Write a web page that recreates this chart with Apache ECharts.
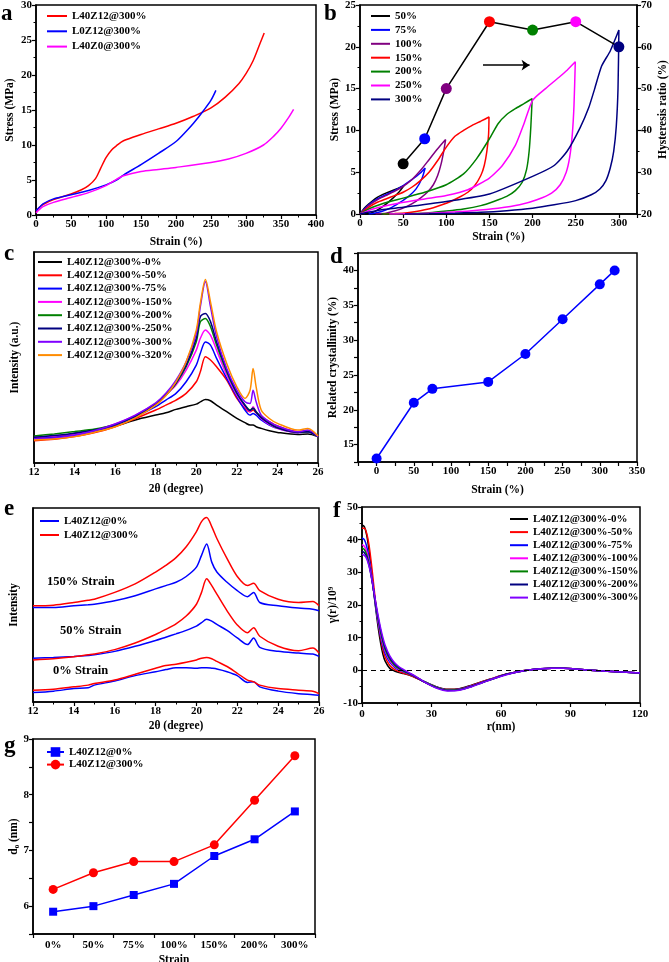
<!DOCTYPE html>
<html><head><meta charset="utf-8">
<script src="https://cdn.jsdelivr.net/npm/echarts@6/dist/echarts.min.js"></script>
<style>html,body{margin:0;padding:0;background:#fff}#c{width:669px;height:962px}</style>
</head><body><div id="c"></div>
<script>
// ---------- Panel a: stress-strain ----------
const aRedX = [0,5,10,25,50,65,75,85,92,100,108,115,125,150,175,200,225,250,270,290,300,310,320,326];
const aRedY = [0.5,1.1,1.5,2.2,3.0,3.6,4.2,5.2,6.6,8.2,9.3,9.9,10.6,11.5,12.3,13.1,14.1,15.3,16.8,18.8,20.2,22.0,24.5,26.0];
const aBlueX = [0,5,10,25,50,75,100,115,125,150,175,200,215,225,240,250,257];
const aBlueY = [0.6,1.1,1.6,2.3,2.9,3.5,4.3,5.0,5.7,7.2,8.8,10.5,12.0,13.1,15.0,16.4,17.8];
const aMagX = [0,5,10,25,50,75,100,115,125,150,175,200,250,275,300,325,340,350,360,368];
const aMagY = [0.3,0.8,1.2,1.8,2.5,3.2,4.2,5.1,5.6,6.2,6.5,6.8,7.5,8.0,8.8,10.0,11.3,12.4,13.8,15.1];

// ---------- Panel b: hysteresis loops ----------
const b50X = [0,5,10,20,30,40,51,45,35,25,15,6];
const b50Y = [0,0.7,1.2,2.0,2.5,2.9,3.4,2.6,1.6,0.8,0.2,0];
const b75X = [0,5,10,20,30,40,50,60,70,75.5,72,65,55,45,35,25,15,10];
const b75Y = [0,0.6,1.1,1.8,2.3,2.8,3.4,4.1,4.9,5.5,4.3,3.0,2.0,1.3,0.7,0.3,0.05,0];
const b100X = [0,10,20,30,40,50,60,70,80,90,99.2,97,94,90,85,78,70,60,50,40,30,18];
const b100Y = [0,1.0,1.7,2.2,2.7,3.3,4.1,5.2,6.5,7.8,8.9,7.5,6.0,4.6,3.5,2.6,1.9,1.2,0.7,0.35,0.1,0];
const b150X = [0,10,20,30,40,50,60,70,80,90,100,110,120,130,140,149.5,149,147,144,140,133,125,115,105,95,85,75,65,55,40,27];
const b150Y = [0,0.8,1.4,1.8,2.2,2.6,3.2,4.0,5.0,6.4,8.0,9.3,10.0,10.6,11.1,11.6,9.5,7.5,5.8,4.6,3.4,2.6,2.0,1.5,1.1,0.75,0.5,0.3,0.15,0.05,0];
const b200X = [0,10,25,50,75,100,120,135,150,160,170,180,190,199.5,198,196,193,188,180,170,155,140,120,100,80,60,40,25];
const b200Y = [0,0.6,1.2,1.9,2.6,3.5,4.8,6.6,9.0,10.8,11.9,12.6,13.2,13.8,10.5,7.5,5.3,3.8,2.8,2.1,1.5,1.0,0.6,0.35,0.15,0.05,0.01,0];
const b250X = [0,15,40,75,100,125,150,165,180,190,200,215,230,240,249.5,248,246,243,239,232,222,205,185,160,130,100,70,50,34];
const b250Y = [0,0.6,1.2,1.8,2.2,2.9,4.3,5.8,8.2,10.8,13.6,15.0,16.3,17.2,18.2,13.0,9.5,6.8,5.0,3.5,2.5,1.7,1.1,0.7,0.4,0.2,0.06,0.02,0];
const b300X = [0,25,50,100,150,200,225,240,255,265,272,280,290,300,299,297,294,290,285,278,268,250,225,200,170,140,110,80,52];
const b300Y = [0,0.5,0.8,1.5,2.4,4.5,5.8,7.5,10.3,12.7,15.0,17.7,19.5,22.0,15,10.5,7.5,5.5,4.0,3.0,2.3,1.6,1.1,0.7,0.4,0.2,0.1,0.03,0];
const hystX = [50,75,100,150,200,250,300];
const hystY = [32,38,50,66,64,66,60];
const arrowX = [142.5,196.5];
const arrowY = [17.8,17.8];

// ---------- Panel c: XRD ----------
const cX = [12,13,14,15,16,17,18,18.5,19,19.5,20,20.2,20.45,20.7,21,21.5,22,22.4,22.65,22.8,22.95,23.2,23.6,24,25,25.5,26];
const c0 = [11.7,12.2,14.1,15.6,17.5,20.4,22.7,23.8,25.4,26.7,27.9,29.0,30.1,29.5,27.4,24.3,21.1,19.1,18.0,18.0,17.2,16.4,15.3,14.5,13.5,13.7,12.5];
const c50 = [10.6,11.2,12.5,14.4,17.2,21.1,25.1,27.4,29.8,33.0,38.5,43.2,50.4,48.8,45.6,39.3,30.6,25.9,24.3,25.1,23.8,21.9,19.6,17.5,14.8,15.2,12.8];
const c75 = [11.7,12.2,13.3,15.2,18.0,21.9,26.7,29.8,33.0,38.5,46.4,52.0,57.4,55.9,49.6,40.1,31.4,25.1,22.7,23.5,22.7,20.4,18.0,16.4,14.4,14.7,12.5];
const c150 = [12.2,12.8,13.8,15.6,18.5,22.7,28.2,32.2,36.9,44.0,53.5,59.1,63.0,60.6,53.5,41.7,32.2,26.7,24.3,26.7,24.3,21.1,18.3,16.4,14.4,14.8,12.5];
const c200 = [12.8,13.8,14.9,16.1,18.3,22.2,27.9,32.2,37.7,45.6,57.4,66.9,68.5,64.6,55.9,43.2,33.0,27.4,25.1,25.9,24.3,21.6,18.8,16.7,14.5,14.8,12.5];
const c250 = [12.2,13.0,14.1,15.6,18.2,22.2,27.9,32.4,38.0,46.4,59.1,69.3,70.9,67.0,57.4,44.0,33.3,27.4,24.8,25.9,24.0,21.5,18.8,16.7,14.5,14.8,12.5];
const c300 = [11.4,11.9,13.2,15.4,18.5,22.7,28.5,33.0,39.3,48.0,61.4,74.1,85.9,74.1,59.8,44.8,34.5,29.0,28.2,34.5,29.0,22.7,19.6,17.5,14.8,15.6,12.5];
const c320 = [10.9,11.4,12.5,14.6,17.2,21.4,27.4,31.9,38.5,48.0,63.0,75.6,87.0,76.4,62.2,47.2,36.1,30.6,34.5,44.8,36.1,25.1,21.1,18.8,15.6,16.4,12.8];

// ---------- Panel d: crystallinity ----------
const dX = [0,50,75,150,200,250,300,320];
const dY = [13,21,23,24,28,33,38,40];

// ---------- Panel e: XRD comparison ----------
const eX = [12,13,14,14.7,15,16,17,18,18.5,19,19.5,20,20.25,20.5,20.75,21,21.5,22,22.5,22.8,23.1,24,25,25.7,26];
const eBlue0 = [4.9,5.6,6.9,7.3,8.7,10.8,13.6,15.6,16.7,17.7,17.7,17.4,17.7,17.7,17.4,17.0,15.6,13.6,10.1,10.4,7.8,5.6,4.3,3.8,3.5];
const eRed0 = [6.1,6.6,7.8,8.7,9.5,11.3,14.3,17.4,18.8,19.5,20.5,21.7,22.6,23.0,22.3,20.9,18.3,14.8,11.3,10.4,8.7,6.9,6.1,5.6,4.3];
const eBlue50 = [22.6,23.0,23.5,24.0,24.3,26.1,28.7,31.7,33.4,35.1,36.9,39.1,40.9,42.6,41.7,40.0,36.9,33.0,29.6,33.0,28.2,26.1,25.2,24.7,23.5];
const eRed50 = [21.7,22.3,23.3,24.3,24.7,27.0,30.4,34.8,37.4,40.3,44.3,50.4,56.5,63.5,60.0,55.6,47.0,39.7,35.7,38.3,33.9,28.7,26.4,27.8,25.2];
const eBlue150 = [48.7,48.7,49.6,50.1,50.4,52.2,54.8,58.3,60.0,61.7,64.7,69.5,75.6,81.4,72.1,67.0,61.7,57.4,54.3,56.5,51.3,49.6,48.4,47.8,47.0];
const eRed150 = [49.6,49.9,51.3,52.5,53.0,56.5,60.9,67.0,70.4,74.4,80.0,87.8,93.0,95.1,90.4,84.3,73.9,64.7,60.0,61.2,57.4,53.0,51.3,51.8,49.6];

// ---------- Panel f: correlation function ----------
const fR = [0,1,2,3,4,5,6,7,8,9,10,12,14,16,18,20,23,27,32,37,42,47,52,57,62,67,72,77,82,87,92,97,102,110,120];
const f0 = [44.5,44,41.5,37,31,24.5,18.5,13,8.5,5,2.8,0.6,-0.2,-0.7,-1.0,-1.4,-2.2,-3.5,-5.0,-5.8,-5.6,-4.6,-3.4,-2.3,-1.2,-0.4,0.1,0.4,0.6,0.6,0.4,0.1,-0.1,-0.4,-0.8];
const f50 = [43.5,43.5,42,38.5,33,26.5,20,14.5,10,6.5,4,1.5,0.3,-0.4,-0.9,-1.3,-2.2,-3.6,-5.1,-5.9,-5.7,-4.7,-3.5,-2.3,-1.2,-0.4,0.1,0.4,0.6,0.6,0.4,0.1,-0.1,-0.4,-0.8];
const f75 = [40.5,40,38,34.5,30,24.5,19,14.5,10.5,7.5,5.2,2.5,1.0,0.1,-0.5,-1.0,-2.0,-3.5,-5.1,-6.0,-5.8,-4.8,-3.6,-2.4,-1.3,-0.5,0.1,0.4,0.6,0.6,0.4,0.1,-0.1,-0.4,-0.8];
const f100 = [38.5,38,36.5,33.5,29.5,24.5,19.5,15,11.2,8.2,5.9,3.0,1.3,0.3,-0.4,-0.9,-1.9,-3.5,-5.2,-6.1,-5.9,-4.9,-3.6,-2.4,-1.3,-0.5,0.1,0.5,0.6,0.6,0.4,0.1,-0.1,-0.4,-0.8];
const f150 = [37.5,37,35.5,32.8,29,24.5,19.8,15.5,11.8,8.8,6.4,3.4,1.6,0.5,-0.3,-0.9,-1.9,-3.5,-5.2,-6.1,-5.9,-5.0,-3.7,-2.5,-1.3,-0.5,0.1,0.5,0.6,0.6,0.4,0.1,-0.1,-0.4,-0.8];
const f200 = [36.5,36,34.8,32.3,28.8,24.5,20,16,12.4,9.4,7.0,3.9,2.0,0.8,-0.1,-0.8,-1.9,-3.6,-5.3,-6.2,-6.0,-5.0,-3.7,-2.5,-1.3,-0.5,0.1,0.5,0.6,0.6,0.4,0.1,-0.1,-0.4,-0.8];
const f300 = [35.5,35.2,34.2,32,28.8,24.8,20.5,16.6,13.1,10.1,7.7,4.4,2.4,1.1,0.2,-0.6,-1.8,-3.6,-5.4,-6.3,-6.1,-5.1,-3.8,-2.5,-1.4,-0.5,0.1,0.5,0.6,0.6,0.4,0.1,-0.1,-0.4,-0.8];

// ---------- Panel g: long period ----------
const gCats = ['0%','50%','75%','100%','150%','200%','300%'];
const gBlue = [5.9,6.0,6.2,6.4,6.9,7.2,7.7];
const gRed = [6.3,6.6,6.8,6.8,7.1,7.9,8.7];

// ---------- styling ----------
const FONT = '"Liberation Serif","Times New Roman",serif';
const zip = (xs, ys) => xs.map((x, i) => [x, ys[i]]);
function merge(a, b) {
  const o = Object.assign({}, a);
  for (const k in b) {
    const v = b[k];
    if (v && typeof v === 'object' && !Array.isArray(v) && a[k] && typeof a[k] === 'object' && !Array.isArray(a[k])) o[k] = merge(a[k], v);
    else o[k] = v;
  }
  return o;
}
const baseAxis = {
  type: 'value', nameLocation: 'middle',
  nameTextStyle: {color: '#000', fontFamily: FONT, fontWeight: 'bold', fontSize: 11.5},
  axisLine: {show: true, onZero: false, lineStyle: {color: '#000', width: 1.5}},
  axisTick: {show: true, length: 4, inside: false, lineStyle: {color: '#000', width: 1.2}},
  minorTick: {show: false, splitNumber: 2, length: 2.5, lineStyle: {color: '#000', width: 1}},
  axisLabel: {show: true, color: '#000', fontFamily: FONT, fontWeight: 'bold', fontSize: 11, margin: 4},
  splitLine: {show: false}, minorSplitLine: {show: false}
};
const ax = o => merge(baseAxis, o);
const every = m => (v => (Math.abs(v / m - Math.round(v / m)) < 1e-6 && v >= 0 ? String(v) : ''));
const every5 = v => (Math.abs(v / 5 - Math.round(v / 5)) < 1e-6 ? String(v) : '');
const everyInt = v => (Math.abs(v - Math.round(v)) < 1e-6 ? String(v) : '');

const gridBase = {show: true, borderColor: '#000', borderWidth: 1.5, backgroundColor: 'transparent', containLabel: false, outerBoundsMode: 'none'};
const grids = [
  {left: 36, top: 5, width: 280, height: 210},
  {left: 360, top: 5, width: 277, height: 209},
  {left: 34, top: 252, width: 284, height: 211},
  {left: 358, top: 253, width: 279, height: 209},
  {left: 33, top: 508, width: 286, height: 194},
  {left: 362, top: 507, width: 278, height: 196},
  {left: 33, top: 739, width: 282, height: 195}
].map(g => Object.assign({}, gridBase, g));

const xAxes = [
  ax({gridIndex: 0, min: 0, max: 400, interval: 50, minorTick: {show: true}, name: 'Strain (%)', nameGap: 21}),
  ax({gridIndex: 1, min: 0, max: 321, interval: 50, axisLabel: {formatter: every(50)}, name: 'Strain (%)', nameGap: 17}),
  ax({gridIndex: 2, min: 12, max: 26, interval: 2, minorTick: {show: true}, name: '2θ (degree)', nameGap: 20}),
  ax({gridIndex: 3, min: -25, max: 350, interval: 25, axisLabel: {formatter: every(50)}, name: 'Strain (%)', nameGap: 22}),
  ax({gridIndex: 4, min: 12, max: 26, interval: 2, minorTick: {show: true}, name: '2θ (degree)', nameGap: 18}),
  ax({gridIndex: 5, min: 0, max: 120, interval: 30, minorTick: {show: true}, name: 'r(nm)', nameGap: 17, axisLabel: {margin: 6}}),
  ax({gridIndex: 6, type: 'category', data: gCats, boundaryGap: true, name: 'Strain', nameGap: 20, axisTick: {interval: 0}, axisLabel: {interval: 0, margin: 6}})
];
const yAxes = [
  ax({gridIndex: 0, min: 0, max: 30, interval: 5, minorTick: {show: true}, name: 'Stress (MPa)', nameGap: 20, nameRotate: 90}),
  ax({gridIndex: 1, min: 0, max: 25, interval: 5, minorTick: {show: true}, name: 'Stress (MPa)', nameGap: 18, nameRotate: 90}),
  ax({gridIndex: 1, position: 'right', min: 20, max: 70, interval: 10, minorTick: {show: true}, name: 'Hysteresis ratio (%)', nameGap: 20, nameRotate: 90}),
  ax({gridIndex: 2, min: 0, max: 100, axisTick: {show: false}, axisLabel: {show: false}, name: 'Intensity (a.u.)', nameGap: 13, nameRotate: 90}),
  ax({gridIndex: 3, min: 12.5, max: 42.5, interval: 2.5, axisLabel: {formatter: every5}, name: 'Related crystallinity (%)', nameGap: 16, nameRotate: 90}),
  ax({gridIndex: 4, min: 0, max: 100, axisTick: {show: false}, axisLabel: {show: false}, name: 'Intensity', nameGap: 13, nameRotate: 90}),
  ax({gridIndex: 5, min: -10, max: 50, interval: 10, minorTick: {show: true}, name: 'γ(r)/10⁹', nameGap: 17, nameRotate: 90}),
  ax({gridIndex: 6, min: 5.5, max: 9, interval: 0.5, axisLabel: {formatter: everyInt}, name: 'd₀ (nm)', nameGap: 12, nameRotate: 90})
];

const line = (name, data, color, xi, yi, extra) => Object.assign({
  type: 'line', name, data, xAxisIndex: xi, yAxisIndex: yi, symbol: 'none', smooth: 0.3,
  lineStyle: {color, width: 1.5}, itemStyle: {color}, emphasis: {disabled: true}, silent: true
}, extra || {});

const C = {black: '#000000', red: '#FF0000', blue: '#0000FF', mag: '#FF00FF', green: '#008000', navy: '#000080', purple: '#800080', violet: '#8000FF', orange: '#FF8C00'};
const hystColors = [C.black, C.blue, C.purple, C.red, C.green, C.mag, C.navy];

const series = [
  // a
  line('L40Z12@300%', zip(aRedX, aRedY), C.red, 0, 0),
  line('L0Z12@300%', zip(aBlueX, aBlueY), C.blue, 0, 0),
  line('L40Z0@300%', zip(aMagX, aMagY), C.mag, 0, 0),
  // b loops
  line('50%', zip(b50X, b50Y), C.black, 1, 1, {smooth: 0.2}),
  line('75%', zip(b75X, b75Y), C.blue, 1, 1, {smooth: 0.2}),
  line('100%', zip(b100X, b100Y), C.purple, 1, 1, {smooth: 0.2}),
  line('150%', zip(b150X, b150Y), C.red, 1, 1, {smooth: 0.2}),
  line('200%', zip(b200X, b200Y), C.green, 1, 1, {smooth: 0.2}),
  line('250%', zip(b250X, b250Y), C.mag, 1, 1, {smooth: 0.2}),
  line('300%', zip(b300X, b300Y), C.navy, 1, 1, {smooth: 0.2}),
  {type: 'line', name: 'hyst', xAxisIndex: 1, yAxisIndex: 2, smooth: false, symbol: 'circle', symbolSize: 11,
   lineStyle: {color: '#000', width: 1.5}, silent: true,
   data: hystX.map((x, i) => ({value: [x, hystY[i]], itemStyle: {color: hystColors[i]}})), z: 5},
  {type: 'lines', coordinateSystem: 'cartesian2d', xAxisIndex: 1, yAxisIndex: 1, silent: true,
   symbol: ['none', 'arrow'], symbolSize: 8, lineStyle: {color: '#000', width: 1.5, opacity: 1},
   data: [{coords: zip(arrowX, arrowY)}], z: 5},
  // c
  line('L40Z12@300%-0%', zip(cX, c0), C.black, 2, 3),
  line('L40Z12@300%-50%', zip(cX, c50), C.red, 2, 3),
  line('L40Z12@300%-75%', zip(cX, c75), C.blue, 2, 3),
  line('L40Z12@300%-150%', zip(cX, c150), C.mag, 2, 3),
  line('L40Z12@300%-200%', zip(cX, c200), C.green, 2, 3),
  line('L40Z12@300%-250%', zip(cX, c250), C.navy, 2, 3),
  line('L40Z12@300%-300%', zip(cX, c300), C.violet, 2, 3),
  line('L40Z12@300%-320%', zip(cX, c320), C.orange, 2, 3),
  // d
  line('cryst', zip(dX, dY), C.blue, 3, 4, {smooth: false, symbol: 'circle', symbolSize: 10}),
  // e
  line('L40Z12@0%#e', zip(eX, eBlue0), C.blue, 4, 5),
  line('L40Z12@300%#e', zip(eX, eRed0), C.red, 4, 5),
  line('L40Z12@0%#e', zip(eX, eBlue50), C.blue, 4, 5),
  line('L40Z12@300%#e', zip(eX, eRed50), C.red, 4, 5),
  line('L40Z12@0%#e', zip(eX, eBlue150), C.blue, 4, 5),
  line('L40Z12@300%#e', zip(eX, eRed150), C.red, 4, 5),
  // f
  line('L40Z12@300%-0%#f', zip(fR, f0), C.black, 5, 6, {markLine: {silent: true, symbol: 'none', label: {show: false},
     lineStyle: {color: '#000', type: [5, 4], width: 1.2}, data: [{yAxis: 0}]}}),
  line('L40Z12@300%-50%#f', zip(fR, f50), C.red, 5, 6),
  line('L40Z12@300%-75%#f', zip(fR, f75), C.blue, 5, 6),
  line('L40Z12@300%-100%#f', zip(fR, f100), C.mag, 5, 6),
  line('L40Z12@300%-150%#f', zip(fR, f150), C.green, 5, 6),
  line('L40Z12@300%-200%#f', zip(fR, f200), C.navy, 5, 6),
  line('L40Z12@300%-300%#f', zip(fR, f300), C.violet, 5, 6),
  // g
  line('L40Z12@0%#g', gBlue, C.blue, 6, 7, {smooth: false, symbol: 'rect', symbolSize: 8}),
  line('L40Z12@300%#g', gRed, C.red, 6, 7, {smooth: false, symbol: 'circle', symbolSize: 9})
];

const legBase = {orient: 'vertical', padding: 0, itemHeight: 12, selectedMode: false,
  formatter: n => n.split('#')[0],
  textStyle: {color: '#000', fontFamily: FONT, fontWeight: 'bold', fontSize: 11, lineHeight: 12}};
const leg = o => Object.assign({}, legBase, o);
const lineLeg = o => Object.assign({}, legBase, {icon: 'rect', itemHeight: 2}, o);
const legends = [
  lineLeg({left: 47, top: 10, itemWidth: 20, itemGap: 3.3, data: ['L40Z12@300%', 'L0Z12@300%', 'L40Z0@300%']}),
  lineLeg({left: 371, top: 10, itemWidth: 19, itemGap: 1.9, data: ['50%', '75%', '100%', '150%', '200%', '250%', '300%']}),
  lineLeg({left: 38, top: 256, itemWidth: 24, itemGap: 1.3, data: ['L40Z12@300%-0%', 'L40Z12@300%-50%', 'L40Z12@300%-75%', 'L40Z12@300%-150%', 'L40Z12@300%-200%', 'L40Z12@300%-250%', 'L40Z12@300%-300%', 'L40Z12@300%-320%']}),
  lineLeg({left: 40, top: 515, itemWidth: 19, itemGap: 2, data: ['L40Z12@0%#e', 'L40Z12@300%#e']}),
  lineLeg({left: 510, top: 513, itemWidth: 18, itemGap: 1.1, data: ['L40Z12@300%-0%#f', 'L40Z12@300%-50%#f', 'L40Z12@300%-75%#f', 'L40Z12@300%-100%#f', 'L40Z12@300%-150%#f', 'L40Z12@300%-200%#f', 'L40Z12@300%-300%#f']}),
  leg({left: 46, top: 746, itemWidth: 17, itemGap: 0.6, data: ['L40Z12@0%#g', 'L40Z12@300%#g']})
];

const txt = (text, x, y, size) => ({type: 'text', x, y, silent: true,
  style: {text, fill: '#000', font: 'bold ' + size + 'px ' + FONT, verticalAlign: 'middle', align: 'left'}});
const graphic = [
  txt('a', 1, 14, 23), txt('b', 324, 14, 23), txt('c', 4, 254, 23), txt('d', 330, 257, 23),
  txt('e', 4, 509, 23), txt('f', 333, 511, 23), txt('g', 4, 746, 23),
  txt('150% Strain', 47, 582, 12.5), txt('50% Strain', 60, 631, 12.5), txt('0% Strain', 53, 671, 12.5)
];

const chart = echarts.init(document.getElementById('c'), null, {renderer: 'canvas'});
chart.setOption({
  animation: false, backgroundColor: '#fff',
  grid: grids, xAxis: xAxes, yAxis: yAxes, legend: legends, series, graphic
});
</script></body></html>
